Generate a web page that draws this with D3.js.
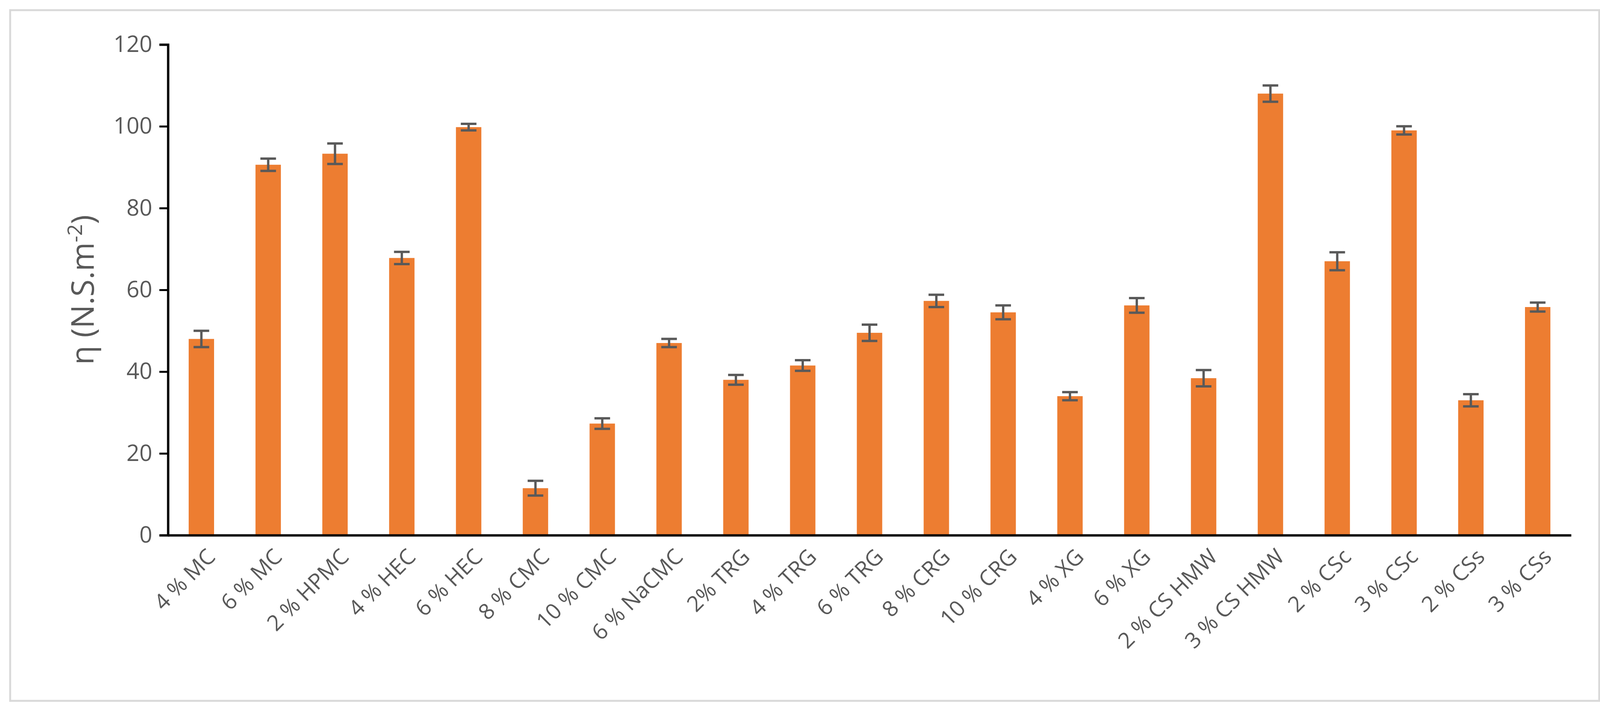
<!DOCTYPE html>
<html>
<head>
<meta charset="utf-8">
<script src="https://cdn.jsdelivr.net/npm/d3@7"></script>
<style>
  body { margin: 0; background: #fff; }
  text { font-family: "Open Sans", "Noto Sans", sans-serif; fill: #595959; }
</style>
</head>
<body>
<div id="chart"></div>
<script>
// data
var categories = ["4 % MC", "6 % MC", "2 % HPMC", "4 % HEC", "6 % HEC", "8 % CMC", "10 % CMC",
    "6 % NaCMC", "2% TRG", "4 % TRG", "6 % TRG", "8 % CRG", "10 % CRG", "4 % XG", "6 % XG",
    "2 % CS HMW", "3 % CS HMW", "2 % CSc", "3 % CSc", "2 % CSs", "3 % CSs"];
var values = [48, 90.6, 93.3, 67.8, 99.8, 11.5, 27.3, 47, 38, 41.5, 49.5, 57.3, 54.5, 34, 56.2,
    38.4, 108, 67, 99, 33, 55.8];
var errors = [2, 1.5, 2.5, 1.5, 0.8, 1.8, 1.3, 1, 1.2, 1.3, 2, 1.5, 1.7, 1, 1.8,
    2, 2, 2.2, 1, 1.5, 1.1];
var yTicks = [0, 20, 40, 60, 80, 100, 120];

var W = 4120, H = 1820;
var margin = { top: 114, right: 98, bottom: 450, left: 430 };
var width = W - margin.left - margin.right,
    height = H - margin.top - margin.bottom;

var svg = d3.select("#chart").append("svg")
    .attr("width", W)
    .attr("height", H);

// chart frame
svg.append("rect")
    .attr("x", 26).attr("y", 26)
    .attr("width", W - 52).attr("height", H - 52)
    .attr("fill", "none")
    .attr("stroke", "#d9d9d9")
    .attr("stroke-width", 5);

var g = svg.append("g")
    .attr("transform", "translate(" + margin.left + "," + margin.top + ")");

var x = d3.scaleBand().domain(categories).range([0, width]).paddingInner(0.62).paddingOuter(0.31);
var y = d3.scaleLinear().domain([0, 120]).range([height, 0]);

// bars
g.selectAll(".bar")
    .data(values)
    .enter().append("rect")
    .attr("class", "bar")
    .attr("x", function(d, i) { return x(categories[i]); })
    .attr("y", function(d) { return y(d); })
    .attr("width", x.bandwidth())
    .attr("height", function(d) { return height - y(d); })
    .attr("fill", "#ed7d31");

// error bars
var eb = g.selectAll(".err")
    .data(values)
    .enter().append("g")
    .attr("class", "err")
    .attr("stroke", "#595959")
    .attr("stroke-width", 6);
eb.append("line")
    .attr("x1", function(d, i) { return x(categories[i]) + x.bandwidth() / 2; })
    .attr("x2", function(d, i) { return x(categories[i]) + x.bandwidth() / 2; })
    .attr("y1", function(d, i) { return y(d - errors[i]); })
    .attr("y2", function(d, i) { return y(d + errors[i]); });
[-1, 1].forEach(function(s) {
    eb.append("line")
        .attr("x1", function(d, i) { return x(categories[i]) + x.bandwidth() / 2 - 20; })
        .attr("x2", function(d, i) { return x(categories[i]) + x.bandwidth() / 2 + 20; })
        .attr("y1", function(d, i) { return y(d + s * errors[i]); })
        .attr("y2", function(d, i) { return y(d + s * errors[i]); });
});

// y axis
var yAxis = g.append("g")
    .call(d3.axisLeft(y).tickValues(yTicks).tickSize(22).tickPadding(18));
yAxis.select(".domain").attr("stroke", "#000").attr("stroke-width", 6);
yAxis.selectAll(".tick line").attr("stroke", "#000").attr("stroke-width", 5);
yAxis.selectAll("text").style("font-size", "58px").attr("fill", "#595959");

// x axis
var xAxis = g.append("g")
    .attr("transform", "translate(0," + height + ")")
    .call(d3.axisBottom(x).tickSize(0).tickPadding(0));
xAxis.select(".domain").attr("stroke", "#000").attr("stroke-width", 6);
xAxis.selectAll("text")
    .style("font-size", "56px")
    .attr("fill", "#595959")
    .attr("text-anchor", "end")
    .attr("dy", "0.35em")
    .attr("transform", "translate(25,45) rotate(-45)");

// y title
var title = svg.append("text")
    .attr("transform", "translate(240," + (margin.top + height / 2) + ") rotate(-90)")
    .attr("text-anchor", "middle")
    .style("font-size", "80px");
title.append("tspan").text("η (N.S.m");
title.append("tspan").attr("dy", -30).style("font-size", "52px").text("-2");
title.append("tspan").attr("dy", 30).text(")");
</script>
</body>
</html>
